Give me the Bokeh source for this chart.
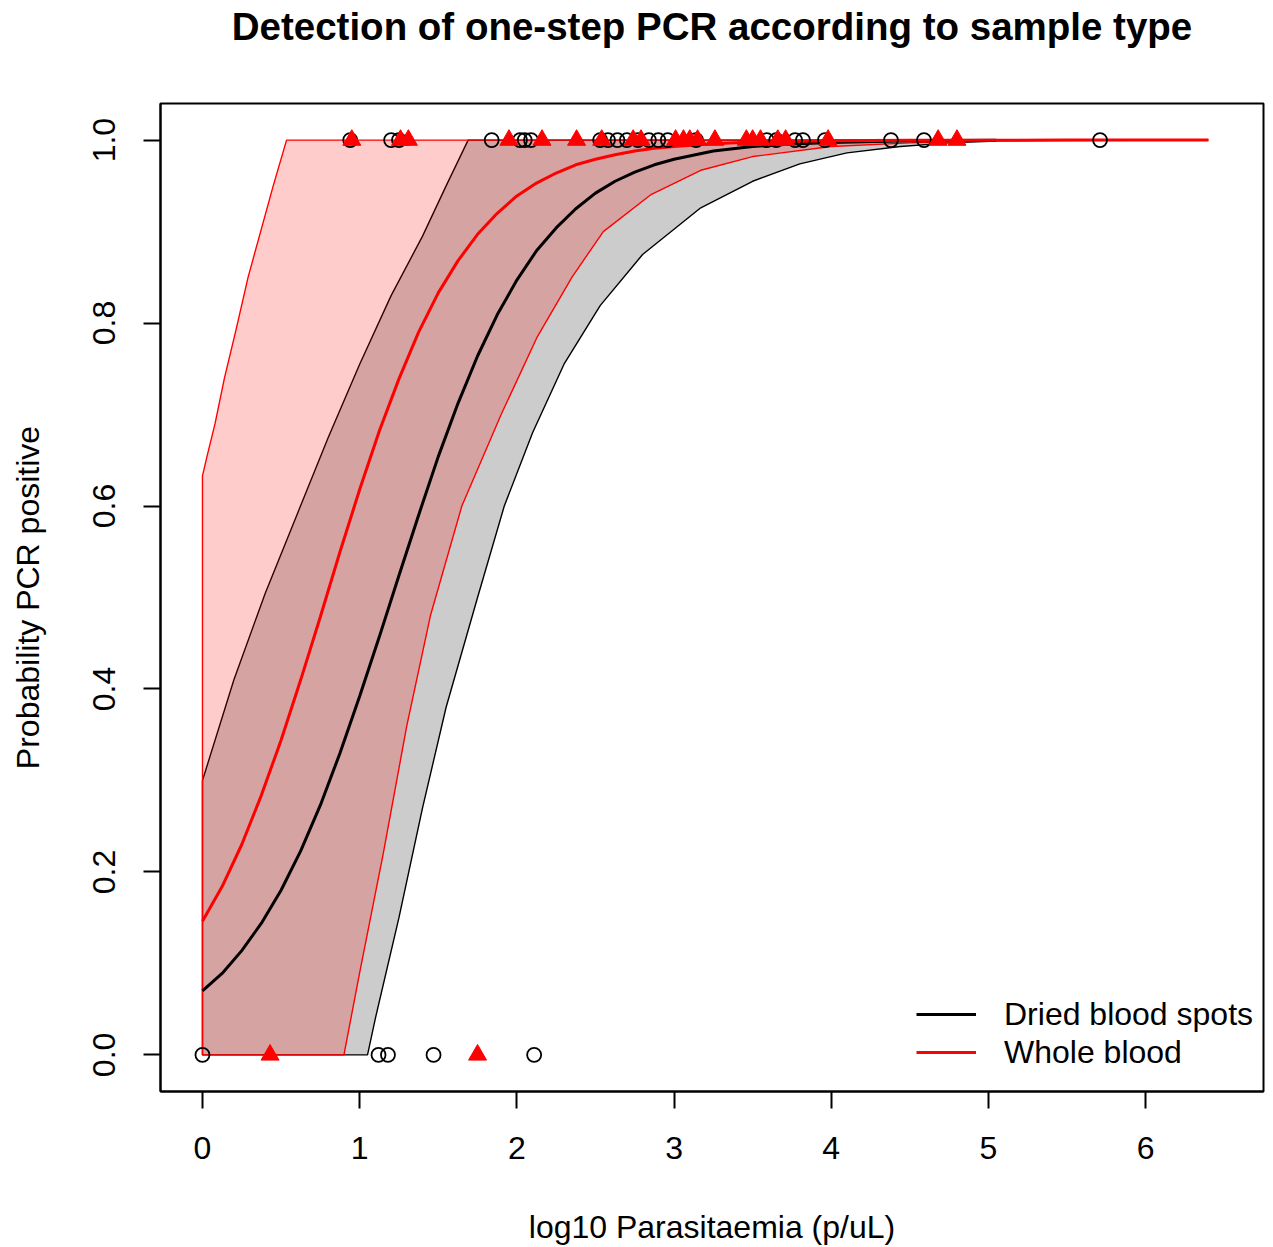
from bokeh.plotting import figure
from bokeh.models import Range1d, FixedTicker, Legend, LegendItem
from bokeh.embed import file_html
from bokeh.resources import INLINE

title_text = "Detection of one-step PCR according to sample type"
x_label = "log10 Parasitaemia (p/uL)"
y_label = "Probability PCR positive"
x_ticks = [0, 1, 2, 3, 4, 5, 6]
x_tick_labels = ["0", "1", "2", "3", "4", "5", "6"]
y_ticks = [0.0, 0.2, 0.4, 0.6, 0.8, 1.0]
y_tick_labels = ["0.0", "0.2", "0.4", "0.6", "0.8", "1.0"]
legend_labels = ["Dried blood spots", "Whole blood"]

# fitted curves
dbs_fit_x = [0, 0.125, 0.25, 0.375, 0.5, 0.625, 0.75, 0.875, 1.0, 1.125, 1.25, 1.375, 1.5, 1.625, 1.75, 1.875,
             2.0, 2.125, 2.25, 2.375, 2.5, 2.625, 2.75, 2.875, 3.0, 3.25, 3.5, 3.75, 4.0, 4.5, 5.05]
dbs_fit_p = [0.070, 0.089, 0.114, 0.144, 0.180, 0.223, 0.273, 0.330, 0.392, 0.457, 0.524, 0.590, 0.654, 0.712,
             0.764, 0.809, 0.847, 0.879, 0.904, 0.925, 0.942, 0.955, 0.965, 0.973, 0.979, 0.988, 0.993, 0.9958,
             0.9975, 0.9992, 0.9997]
wb_fit_x = [0, 0.125, 0.25, 0.375, 0.5, 0.625, 0.75, 0.875, 1.0, 1.125, 1.25, 1.375, 1.5, 1.625, 1.75, 1.875,
            2.0, 2.125, 2.25, 2.375, 2.5, 2.625, 2.75, 2.875, 3.0, 3.25, 3.5, 4.0, 4.5, 5.0, 5.5, 6.0, 6.4]
wb_fit_p = [0.146, 0.184, 0.230, 0.284, 0.344, 0.410, 0.479, 0.550, 0.618, 0.682, 0.739, 0.790, 0.833, 0.868,
            0.897, 0.920, 0.939, 0.953, 0.964, 0.973, 0.979, 0.984, 0.988, 0.991, 0.993, 0.9961, 0.9978, 0.9993,
            0.9998, 0.9999, 1.0, 1.0, 1.0]

# confidence bands
dbs_upper_x = [0, 0.2, 0.4, 0.6, 0.8, 1.0, 1.2, 1.4, 1.55, 1.69, 5.05]
dbs_upper_p = [0.30, 0.41, 0.505, 0.59, 0.675, 0.755, 0.83, 0.895, 0.95, 1.0, 1.0]
dbs_lower_x = [0, 1.05, 1.1, 1.25, 1.4, 1.55, 1.75, 1.92, 2.1, 2.3, 2.53, 2.8, 3.17, 3.5, 3.8, 4.1, 4.44, 4.75, 5.05]
dbs_lower_p = [0, 0, 0.04, 0.15, 0.27, 0.38, 0.50, 0.60, 0.68, 0.755, 0.819, 0.875, 0.926, 0.955, 0.974, 0.986, 0.993, 0.997, 0.999]
wb_upper_x = [0, 0.03, 0.08, 0.14, 0.21, 0.29, 0.37, 0.45, 0.535, 6.4]
wb_upper_p = [0.633, 0.655, 0.69, 0.74, 0.79, 0.85, 0.90, 0.95, 1.0, 1.0]
wb_lower_x = [0, 0.9, 1.0, 1.15, 1.3, 1.45, 1.65, 1.9, 2.13, 2.35, 2.55, 2.85, 3.17, 3.5, 4.0, 4.5, 5.0, 5.5, 6.4]
wb_lower_p = [0, 0, 0.09, 0.22, 0.36, 0.48, 0.60, 0.70, 0.785, 0.85, 0.90, 0.94, 0.967, 0.982, 0.993, 0.997, 0.999, 0.9995, 1.0]

# observations
dbs_obs_x = [0.94, 1.20, 1.25, 1.84, 2.02, 2.05, 2.09, 2.53, 2.58, 2.64, 2.70, 2.77, 2.84, 2.90, 2.96, 3.14,
             3.59, 3.65, 3.77, 3.82, 3.96, 4.38, 4.59, 5.71,
             0.0, 1.12, 1.18, 1.47, 2.11]
dbs_obs_y = [1, 1, 1, 1, 1, 1, 1, 1, 1, 1, 1, 1, 1, 1, 1, 1,
             1, 1, 1, 1, 1, 1, 1, 1,
             0, 0, 0, 0, 0]
wb_obs_x = [0.95, 1.26, 1.31, 1.95, 2.16, 2.38, 2.54, 2.74, 2.79, 3.01, 3.06, 3.10, 3.15, 3.26, 3.46, 3.50,
            3.55, 3.66, 3.71, 3.98, 4.68, 4.80,
            0.43, 1.75]
wb_obs_y = [1, 1, 1, 1, 1, 1, 1, 1, 1, 1, 1, 1, 1, 1, 1, 1,
            1, 1, 1, 1, 1, 1,
            0, 0]

FONT = "Liberation Sans"

p = figure(width=1270, height=1247,
           x_range=Range1d(-0.267, 6.75), y_range=Range1d(-0.04, 1.04),
           output_backend="svg", toolbar_location=None,
           min_border_left=160, min_border_right=7, min_border_top=103, min_border_bottom=156)
p.grid.visible = False
p.outline_line_color = "black"
p.outline_line_width = 2
p.background_fill_color = "white"
p.border_fill_color = "white"

# a blank second line keeps the title high above the frame
p.title.text = title_text + "\n "
p.title.text_font = FONT
p.title.text_font_style = "bold"
p.title.text_font_size = "38.5px"
p.title.text_line_height = 1.3
p.title.text_color = "black"
p.title.align = "center"
p.title.vertical_align = "bottom"
try:
    p.title.standoff = 0
except Exception:
    pass

# bands
p.patch(dbs_upper_x + dbs_lower_x[::-1], dbs_upper_p + dbs_lower_p[::-1],
        fill_color="#CCCCCC", fill_alpha=1.0, line_color="black", line_width=1.4)
p.patch(wb_upper_x + wb_lower_x[::-1], wb_upper_p + wb_lower_p[::-1],
        fill_color="red", fill_alpha=0.2, line_color="red", line_width=1.4)

# fitted lines
l_dbs = p.line(dbs_fit_x, dbs_fit_p, line_color="black", line_width=3)
l_wb = p.line(wb_fit_x, wb_fit_p, line_color="red", line_width=3)

# points
p.scatter(dbs_obs_x, dbs_obs_y, marker="circle", size=14, fill_color=None,
          line_color="black", line_width=1.8)
p.scatter(wb_obs_x, wb_obs_y, marker="triangle", size=18, fill_color="red",
          line_color="red", line_width=1)

for ax, ticks, labs in ((p.xaxis[0], x_ticks, x_tick_labels), (p.yaxis[0], y_ticks, y_tick_labels)):
    ax.ticker = FixedTicker(ticks=ticks)
    ax.major_label_overrides = {t: l for t, l in zip(ticks, labs)}
    ax.major_tick_out = 17
    ax.major_tick_in = 0
    ax.minor_tick_out = 0
    ax.minor_tick_in = 0
    ax.major_tick_line_width = 2
    ax.major_tick_line_color = "black"
    ax.axis_line_color = "black"
    ax.axis_line_width = 2
    ax.major_label_text_font = FONT
    ax.major_label_text_font_size = "32px"
    ax.major_label_text_color = "black"
    ax.axis_label_text_font = FONT
    ax.axis_label_text_font_size = "32px"
    ax.axis_label_text_font_style = "normal"
    ax.axis_label_text_color = "black"

p.xaxis.axis_label = x_label
p.yaxis.axis_label = y_label
p.xaxis.major_label_standoff = 28
p.xaxis.axis_label_standoff = 47
p.yaxis.major_label_standoff = 28
p.yaxis.major_label_orientation = "vertical"
p.yaxis.axis_label_standoff = 45

legend = Legend(items=[LegendItem(label=legend_labels[0], renderers=[l_dbs]),
                       LegendItem(label=legend_labels[1], renderers=[l_wb])],
                location=(756, 20))
legend.background_fill_alpha = 0
legend.border_line_color = None
legend.label_text_font = FONT
legend.label_text_font_size = "32px"
legend.label_text_color = "black"
legend.glyph_width = 60
legend.glyph_height = 38
legend.label_height = 38
legend.label_standoff = 28
legend.spacing = 0
legend.padding = 10
legend.margin = 0
p.add_layout(legend)

open("out.html", "w").write(file_html(p, INLINE))
